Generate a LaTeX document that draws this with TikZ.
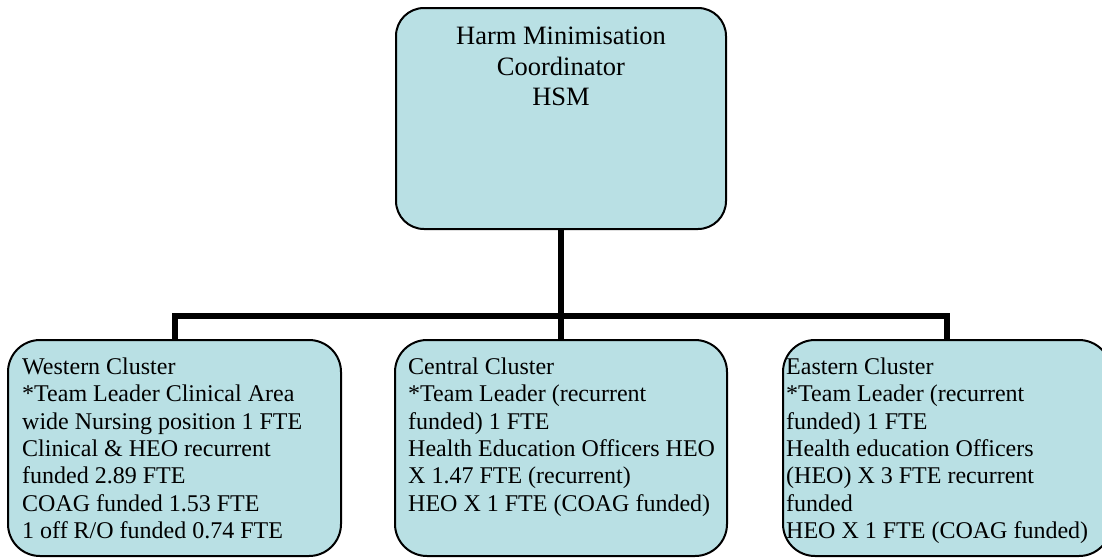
\documentclass[tikz,border=0pt]{standalone}
\usepackage{fontspec}
\setmainfont{Liberation Serif}
\definecolor{boxfill}{RGB}{185,224,228}
\begin{document}
\begin{tikzpicture}[x=1pt,y=-1pt,
  orgbox/.style={draw=black, line width=2pt, fill=boxfill, inner sep=0pt},
  toptext/.style={inner sep=0pt, align=center, font=\fontsize{26.5}{30.5}\selectfont},
  bottext/.style={inner sep=0pt, align=left, anchor=north west, font=\fontsize{24}{27.4}\selectfont},
  conn/.style={draw=black, line width=6pt, line join=miter}
]
\clip (0,0) rectangle (1102,557);
\fill[white] (0,0) rectangle (1102,557);

\node[orgbox, rounded corners=28pt, minimum width=330pt, minimum height=221pt] (top) at (561,118.5) {};
\node[orgbox, rounded corners=32pt, minimum width=333pt, minimum height=216pt] (west) at (174.5,448) {};
\node[orgbox, rounded corners=32pt, minimum width=332pt, minimum height=216pt] (central) at (561,448) {};
\node[orgbox, rounded corners=32pt, minimum width=328pt, minimum height=216pt] (east) at (947,448) {};

\node[toptext, anchor=north] (toptxt) at (561,27) {Harm Minimisation\\Coordinator\\HSM};

\node[bottext] (westtxt) at (22,357.5) {Western Cluster\\*Team Leader Clinical Area\\wide Nursing position 1 FTE\\Clinical \& HEO recurrent\\funded 2.89 FTE\\COAG funded 1.53 FTE\\1 off R/O funded 0.74 FTE};
\node[bottext] (centraltxt) at (408,357.5) {Central Cluster\\*Team Leader (recurrent\\funded) 1 FTE\\Health Education Officers HEO\\X 1.47 FTE (recurrent)\\HEO X 1 FTE (COAG funded)};
\node[bottext] (easttxt) at (786,357.5) {Eastern Cluster\\*Team Leader (recurrent\\funded) 1 FTE\\Health education Officers\\(HEO) X 3 FTE recurrent\\funded\\HEO X 1 FTE (COAG funded)};

\coordinate (bus) at (561,316);
\draw[conn] (top.south) -- (bus);
\draw[conn] (bus) -| (west.north);
\draw[conn] (bus) -| (east.north);
\draw[conn] (bus) -- (central.north);
\end{tikzpicture}
\end{document}
